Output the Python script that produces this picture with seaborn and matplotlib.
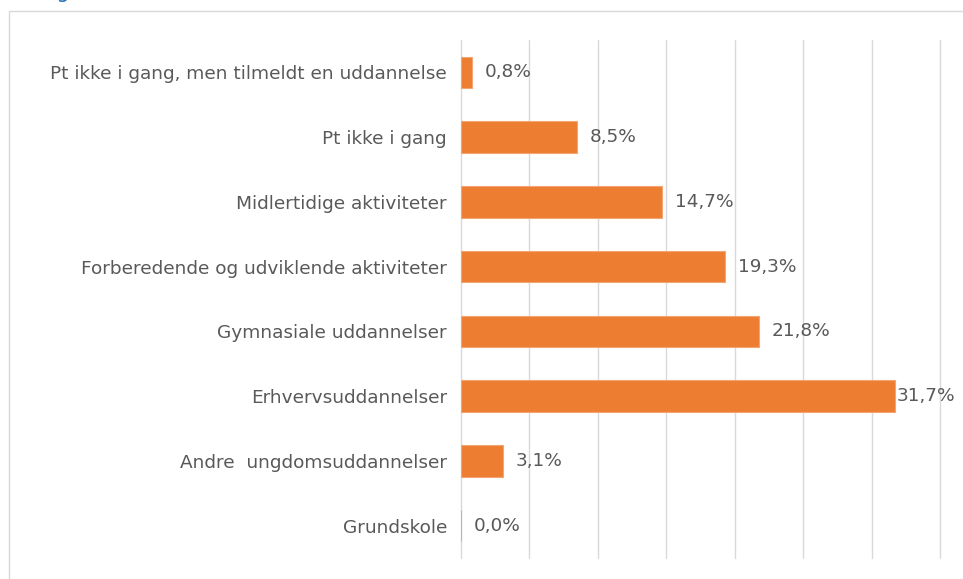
import matplotlib
matplotlib.use("Agg")
import matplotlib.pyplot as plt
import matplotlib.patches as mpatches
import seaborn as sns
import pandas as pd

categories = [
    "Pt ikke i gang, men tilmeldt en uddannelse",
    "Pt ikke i gang",
    "Midlertidige aktiviteter",
    "Forberedende og udviklende aktiviteter",
    "Gymnasiale uddannelser",
    "Erhvervsuddannelser",
    "Andre  ungdomsuddannelser",
    "Grundskole",
]
values = [0.8, 8.5, 14.7, 19.3, 21.8, 31.7, 3.1, 0.0]
value_labels = ["0,8%", "8,5%", "14,7%", "19,3%", "21,8%", "31,7%", "3,1%", "0,0%"]
x_ticks = [0, 5, 10, 15, 20, 25, 30, 35]

df = pd.DataFrame({"kategori": categories, "andel": values})

sns.set_theme(style="white")
plt.rcParams["font.family"] = ["DejaVu Sans"]

fig = plt.figure(figsize=(9.63, 5.79), dpi=100)
ax = fig.add_axes([461 / 963, 1 - 558 / 579, (940 - 461) / 963, (558 - 40) / 579])

sns.barplot(data=df, x="andel", y="kategori", orient="h", color="#ED7D31",
            saturation=1, width=0.49, edgecolor="#F4A672", linewidth=0.8, ax=ax)

ax.set_xlim(0, 35)
ax.set_ylim(len(categories) - 0.5, -0.5)
ax.set_xticks(x_ticks)
ax.set_xticklabels([])
ax.tick_params(axis="x", length=0)
ax.tick_params(axis="y", length=0, pad=10, labelsize=13.3, labelcolor="#595959")
ax.grid(axis="x", color="#d9d9d9", linewidth=1)
for gl in ax.get_xgridlines():
    gl.set_clip_on(False)
ax.set_axisbelow(True)
for s in ax.spines.values():
    s.set_visible(False)
ax.set_xlabel("")
ax.set_ylabel("")

vmax = max(values)
for i, (v, lab) in enumerate(zip(values, value_labels)):
    off = 9 if v < vmax else 1.5
    ax.annotate(lab, xy=(v, i), xytext=(off, 0), textcoords="offset points",
                va="center", ha="left", fontsize=13.3, color="#595959")

# outer frame
frame = mpatches.Rectangle((9 / 963, -0.05), 1.1, 1 - 11 / 579 + 0.05,
                           transform=fig.transFigure, fill=False,
                           edgecolor="#d9d9d9", linewidth=1, clip_on=False)
fig.patches.append(frame)

# partially visible heading above the frame
fig.text(40 / 963, 1 + 1.5 / 579, "Figur", color="#2E75B6", fontsize=15,
         va="baseline", ha="left")

fig.savefig("out.png", dpi=100)
